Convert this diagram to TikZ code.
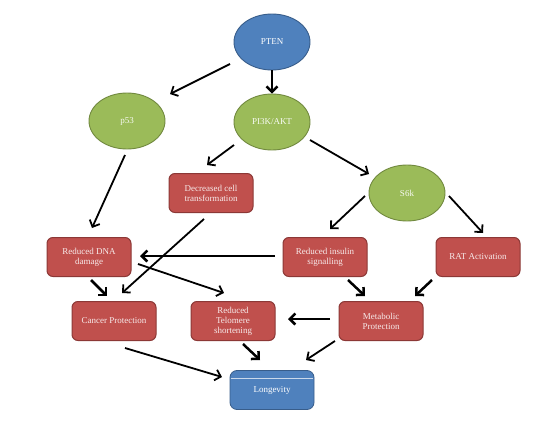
\documentclass[tikz,border=0pt]{standalone}
\usepackage{fontspec}
\setmainfont{Liberation Serif}
\usetikzlibrary{shapes.geometric,arrows.meta}
\definecolor{bfill}{HTML}{4F81BD}
\definecolor{bdraw}{HTML}{385D8A}
\definecolor{gfill}{HTML}{9BBB59}
\definecolor{gdraw}{HTML}{71893F}
\definecolor{rfill}{HTML}{C0504D}
\definecolor{rdraw}{HTML}{8C3836}
\begin{document}
\begin{tikzpicture}[x=1pt,y=-1pt,
  every node/.style={font=\fontsize{9}{10}\selectfont, align=center},
  oval/.style={ellipse, minimum width=76pt, minimum height=56pt, inner sep=0pt, line width=0.9pt},
  blueoval/.style={oval, fill=bfill, draw=bdraw, text=white},
  greenoval/.style={oval, fill=gfill, draw=gdraw, text=white!92!gfill},
  redbox/.style={rectangle, rounded corners=6pt, minimum width=84pt, minimum height=39pt, inner sep=1pt, fill=rfill, draw=rdraw, line width=1pt, text=white!88!rfill},
  bluebox/.style={rectangle, rounded corners=7pt, minimum width=84pt, minimum height=39pt, inner sep=1pt, fill=bfill, draw=bdraw, line width=0.8pt, text=white},
  arr/.style={line width=1.8pt, -{Straight Barb[length=5.5pt,width=11pt,line width=1.8pt]}},
  thickarr/.style={line width=2.5pt, -{Straight Barb[length=5.5pt,width=11pt,line width=2.5pt]}}
]
\useasboundingbox (0,0) rectangle (550,434);
\node[blueoval] (pten) at (272,42) {PTEN};
\node[greenoval] (pi3k) at (272,122) {PI3K/AKT};
\node[greenoval] (p53) at (127,121) {p53};
\node[greenoval] (s6k) at (407,193) {S6k};
\node[redbox] (dec) at (211,193) {Decreased cell\\transformation};
\node[redbox] (dna) at (89,257) {Reduced DNA\\damage};
\node[redbox] (ins) at (325,257) {Reduced insulin\\signalling};
\node[redbox] (rat) at (478,257) {RAT Activation};
\node[redbox] (can) at (114,321) {Cancer Protection};
\node[redbox] (tel) at (233,321) {Reduced\\Telomere\\shortening};
\node[redbox] (met) at (381,321) {Metabolic\\Protection};
\node[bluebox] (lon) at (272,390) {Longevity};
\draw[white!70!bfill, line width=0.6pt] ([xshift=1pt,yshift=-8pt]lon.north west) -- ([xshift=-1pt,yshift=-8pt]lon.north east);

\draw[arr] ([shift={(-42,22)}]pten.center) -- ([shift={(43,-27)}]p53.center);
\draw[thickarr] (pten.south) -- (pi3k.north);
\draw[arr] ([shift={(-38,23)}]pi3k.center) -- ([shift={(-4,-28)}]dec.center);
\draw[arr] ([shift={(38,18)}]pi3k.center) -- ([shift={(-38,-19)}]s6k.center);
\draw[arr] ([shift={(-2,34)}]p53.center) -- ([shift={(3,-29)}]dna.center);
\draw[arr] ([shift={(-7,26)}]dec.center) -- ([shift={(8,-28)}]can.center);
\draw[thickarr] ([shift={(-50,-1)}]ins.center) -- ([shift={(51,-1)}]dna.center);
\draw[arr] ([shift={(49,7)}]dna.center) -- ([shift={(-9,-28)}]tel.center);
\draw[thickarr] ([shift={(2,23)}]dna.center) -- ([shift={(-7,-25)}]can.center);
\draw[arr] ([shift={(-42,3)}]s6k.center) -- ([shift={(5,-28)}]ins.center);
\draw[arr] ([shift={(42,3)}]s6k.center) -- ([shift={(5,-24)}]rat.center);
\draw[thickarr] ([shift={(23,23)}]ins.center) -- ([shift={(-16,-25)}]met.center);
\draw[thickarr] ([shift={(-46,23)}]rat.center) -- ([shift={(34,-25)}]met.center);
\draw[thickarr] ([shift={(-51,-2)}]met.center) -- ([shift={(55,-2)}]tel.center);
\draw[thickarr] ([shift={(10,23)}]tel.center) -- ([shift={(-12,-30)}]lon.center);
\draw[arr] ([shift={(-46,20)}]met.center) -- ([shift={(34,-30)}]lon.center);
\draw[arr] ([shift={(11,27)}]can.center) -- ([shift={(-50,-13)}]lon.center);
\end{tikzpicture}
\end{document}
